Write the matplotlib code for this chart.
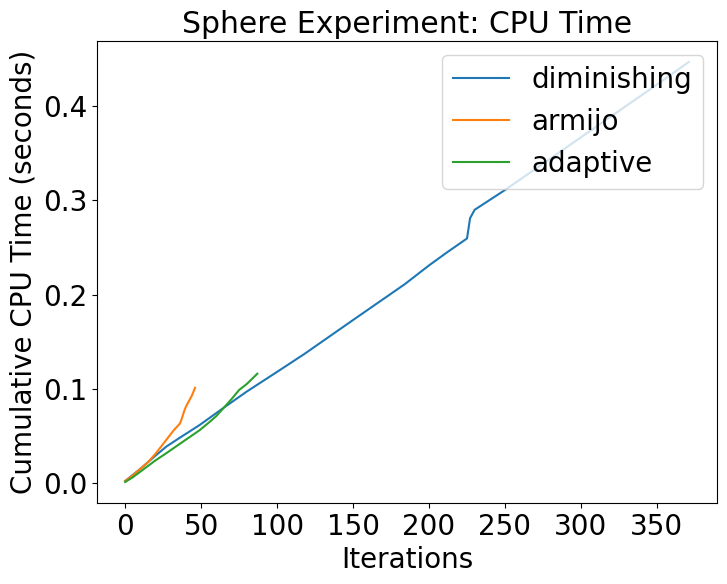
import numpy as np
import matplotlib.pyplot as plt

# iteration index and cumulative cpu time
dim_iter = [0, 10, 20, 27, 35, 49, 65, 80, 101, 118, 134, 150, 167, 184, 200,
            212, 225, 226, 227, 230, 249, 275, 300, 325, 350, 371]
dim_time = [0.002, 0.015, 0.029, 0.0385, 0.047, 0.0615, 0.080, 0.097, 0.119,
            0.137, 0.155, 0.173, 0.192, 0.211, 0.231, 0.245, 0.2596, 0.270,
            0.281, 0.290, 0.310, 0.339, 0.367, 0.395, 0.423, 0.447]

arm_iter = [0, 5, 10, 15, 20, 27, 32, 36, 37, 39, 40, 42, 44, 46]
arm_time = [0.002, 0.008, 0.015, 0.022, 0.031, 0.0456, 0.056, 0.063, 0.067,
            0.077, 0.081, 0.087, 0.093, 0.101]

ada_iter = [0, 5, 10, 20, 27, 40, 49, 55, 60, 65, 70, 75, 80, 87]
ada_time = [0.001, 0.006, 0.012, 0.024, 0.0315, 0.046, 0.056, 0.064, 0.071,
            0.080, 0.089, 0.0987, 0.105, 0.116]

plt.rcParams["font.size"] = 20

fig, ax = plt.subplots(figsize=(7.27, 5.84), dpi=100)
ax.plot(dim_iter, dim_time, label="diminishing")
ax.plot(arm_iter, arm_time, label="armijo")
ax.plot(ada_iter, ada_time, label="adaptive")
ax.set_xticks(np.arange(0, 351, 50))
ax.set_yticks([0.0, 0.1, 0.2, 0.3, 0.4])
ax.set_xlabel("Iterations")
ax.set_ylabel("Cumulative CPU Time (seconds)")
ax.set_title("Sphere Experiment: CPU Time", fontsize=21.5)
ax.legend(loc="upper right")
plt.subplots_adjust(left=0.1334, right=0.9862, top=0.9298, bottom=0.1387)
plt.savefig("out.png")
plt.close()
